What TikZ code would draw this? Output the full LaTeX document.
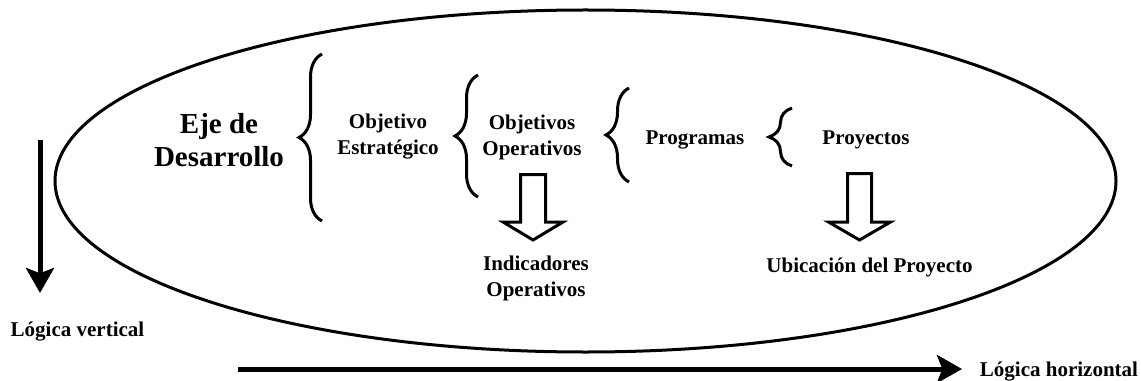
\documentclass[tikz,border=0pt]{standalone}
\usepackage{fontspec}
\setmainfont{Liberation Serif}
\usepackage{tikz}
\usetikzlibrary{positioning, arrows.meta, decorations.pathreplacing}

\tikzset{
    lbl/.style={font=\bfseries\fontsize{15.75}{19.5}\selectfont, align=center, inner sep=0pt},
    biglbl/.style={font=\bfseries\fontsize{21.75}{24.5}\selectfont, align=center, inner sep=0pt},
    bigbrace/.style={decorate, decoration={brace, amplitude=17.25pt}, line width=2.25pt},
    hollow/.style={draw, line width=2.25pt, fill=white, line join=miter},
    flow/.style={line width=3.75pt, -{Stealth[length=18.75pt, width=21pt, inset=4pt]}}
}

\begin{document}
\begin{tikzpicture}[x=0.75pt,y=0.75pt,yscale=-1,xscale=1]
        \useasboundingbox (0,0) rectangle (1141,381);
        % frame
        \draw [line width=2.25pt] (585.5,181) ellipse [x radius=530.5, y radius=171];

        % levels
        \node [biglbl] (eje) at (219,140) {Eje de\\Desarrollo};
        \node [lbl] (objest) at (388,137) {Objetivo\\Estratégico};
        \node [lbl] (objop) at (532,137) {Objetivos\\Operativos};
        \node [lbl] (prog) at (695,140) {Programas};
        \node [lbl] (proy) at (866,140) {Proyectos};
        \node [lbl] (indop) at (536,278) {Indicadores\\Operativos};
        \node [lbl] (ubic) at (869.5,267) {Ubicación del Proyecto};
        \node [lbl] (logv) at (77.5,332) {Lógica vertical};
        \node [lbl] (logh) at (1059,372) {Lógica horizontal};

        % braces
        \draw [bigbrace] (322,221) -- (322,54);
        \draw [bigbrace] (478,197) -- (478,75);
        \draw [bigbrace] (629,182) -- (629,88);
        \draw [bigbrace] (792,166) -- (792,108);

        % hollow arrows
        \coordinate (ba1) at (533,174.5);
        \coordinate (ba2) at (859.5,173.5);
        \draw [hollow] (ba1) ++(-12.5,0) -- ++(25,0) -- ++(0,47.5) -- ++(17.5,0) -- ++(-30,18) -- ++(-30,-18) -- ++(17.5,0) -- cycle;
        \draw [hollow] (ba2) ++(-12,0) -- ++(24,0) -- ++(0,48.5) -- ++(19,0) -- ++(-31,18) -- ++(-31,-18) -- ++(19,0) -- cycle;

        % logic arrows
        \coordinate (vtop) at (40,140);
        \coordinate (vend) at (40,293);
        \coordinate (hstart) at (238,369);
        \coordinate (hend) at (962,369);
        \draw [flow] (vtop) -- (vend);
        \draw [flow] (hstart) -- (hend);
\end{tikzpicture}
\end{document}
